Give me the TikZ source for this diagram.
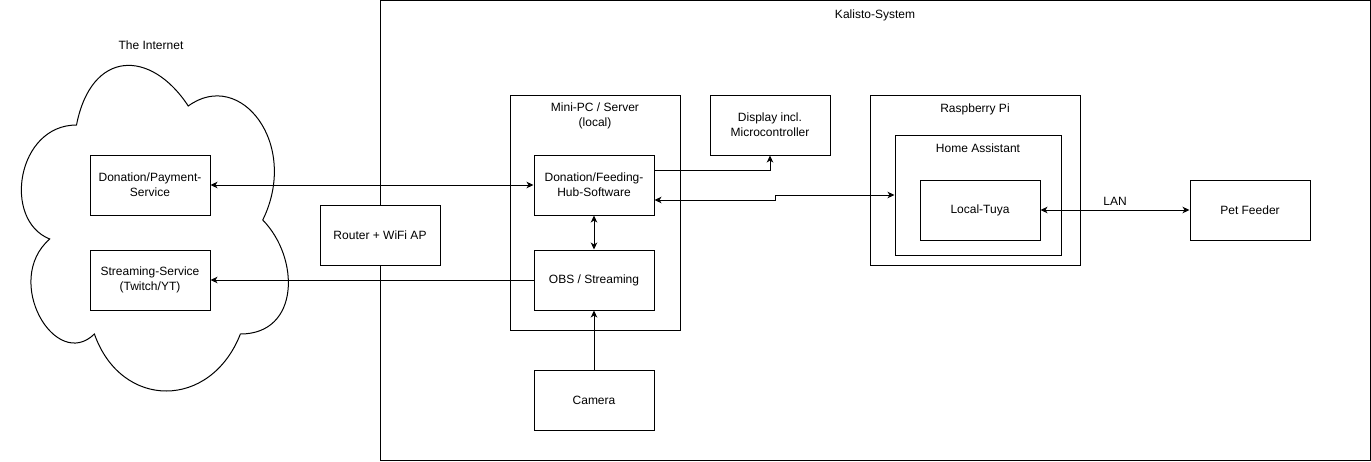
\documentclass[tikz,border=0pt]{standalone}
\usepackage{fontspec}
\setmainfont{Liberation Sans}
\usetikzlibrary{arrows.meta, positioning}
\tikzset{
  box/.style = {draw, line width=1pt, fill=white, minimum width=120, minimum height=60,
    inner sep=0, align=center, font=\fontsize{12}{15}\selectfont},
  group/.style = {draw, line width=1pt, inner sep=0},
  caption/.style = {align=center, inner sep=0, font=\fontsize{12}{15}\selectfont},
  link/.style = {line width=1pt, arrows = {Stealth[length=7pt, width=6.5pt, inset=2pt]-Stealth[length=7pt, width=6.5pt, inset=2pt]}},
  linkto/.style = {line width=1pt, -{Stealth[length=7pt, width=6.5pt, inset=2pt]}}
}

\begin{document}
\begin{tikzpicture}[x=1pt, y=-1pt]

  \useasboundingbox (0,0) rectangle (1371,461);

  %% Kalisto-System
  \draw[line width=1pt] (380.5,0.5) rectangle (1370,460);
  \node[caption] (kalisto) at (875,15) {Kalisto-System};

  %% The Internet
  \draw[line width=1pt] (76.5,125) .. controls (16.9,125) and (2,220) .. (49.7,239)
    .. controls (2,280.8) and (55.6,372) .. (94.4,334)
    .. controls (121.2,410) and (210.6,410) .. (240.4,334)
    .. controls (300,334) and (300,258) .. (262.75,220)
    .. controls (300,144) and (240.4,68) .. (188.25,106)
    .. controls (151,49) and (91.4,49) .. (76.5,125) -- cycle;
  \node[caption] (internet) at (151,45) {The Internet};

  \node[box] (payment) at (150,185) {Donation/Payment-\\Service};
  \node[box] (streaming) at (150,280) {Streaming-Service\\(Twitch/YT)};

  % Router
  \node[box] (router) at (380,235) {Router + WiFi AP};

  %% Mini-PC
  \node[group, minimum width=170, minimum height=235] (minipc) at (595,212.5) {};
  \node[caption, below=8pt of minipc.north] (minipclabel) {Mini-PC / Server\\(local)};
  \node[box] (hub) at (594,185) {Donation/Feeding-\\Hub-Software};
  \node[box] (obs) at (594,280) {OBS / Streaming};
  \node[box] (camera) at (594,400) {Camera};

  % Display
  \node[box] (display) at (770,125) {Display incl.\\Microcontroller};

  %% Raspberry Pi
  \node[group, minimum width=210, minimum height=170] (raspi) at (975,180) {};
  \node[caption, below=9pt of raspi.north] (raspilabel) {Raspberry Pi};
  \node[group, minimum width=166, minimum height=120] (homeassistant) at (978,195) {};
  \node[caption, below=9pt of homeassistant.north] (halabel) {Home Assistant};
  \node[box] (tuya) at (980,210) {Local-Tuya};

  % Pet Feeder
  \node[box] (feeder) at (1250,210) {Pet Feeder};

  %% Connections
  \draw[link] (payment.east) -- (hub.west);
  \draw[linkto] (obs.west) -- (streaming.east);
  \draw[link] (hub.south) -- (obs.north);
  \draw[linkto] (camera.north) -- (obs.south);
  \draw[linkto] ([yshift=15pt]hub.east) -| (display.south);
  \draw[link] ([yshift=-15pt]hub.east) -- (775,200) |- (homeassistant.west);
  \draw[link] (tuya.east) -- (feeder.west) node[caption, midway, above=4pt] {LAN};

\end{tikzpicture}
\end{document}
